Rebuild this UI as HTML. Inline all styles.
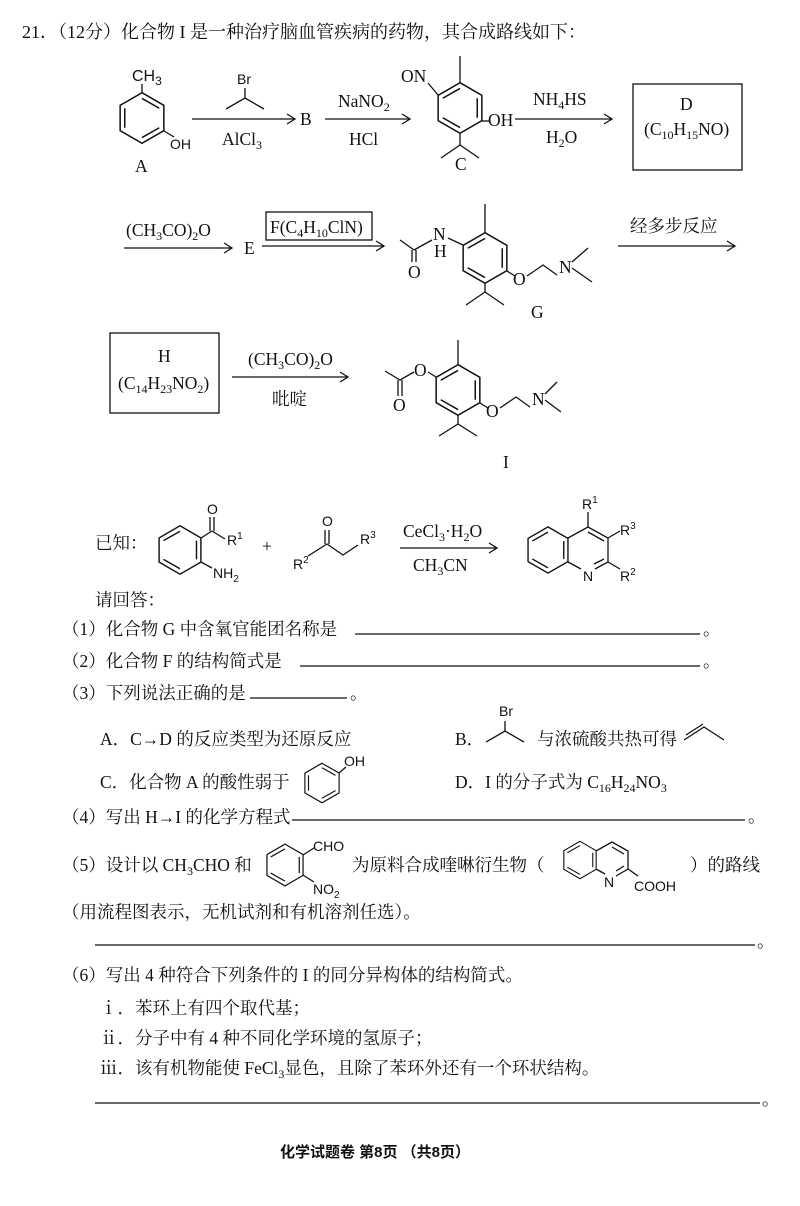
<!DOCTYPE html>
<html><head><meta charset="utf-8"><style>
html,body{margin:0;padding:0;background:#fff;}
svg{display:block}
text{font-family:"Liberation Serif","Noto Serif CJK SC",serif;font-size:17.5px;fill:#111}
.s{font-family:"Liberation Sans","Noto Sans CJK SC",sans-serif;font-size:14px}
line,polyline,polygon,rect{stroke:#111;stroke-width:1.3;fill:none}
</style></head><body>
<svg width="800" height="1206" viewBox="0 0 800 1206">
<defs>
<g id="bz"><polygon points="0,-22 19,-11 19,11 0,22 -19,11 -19,-11"/><line x1="0" y1="-17" x2="15" y2="-8.5"/><line x1="15" y1="8.5" x2="0" y2="17"/><line x1="-15" y1="8.5" x2="-15" y2="-8.5"/></g>
<g id="bz2"><polygon points="0,-22 19,-11 19,11 0,22 -19,11 -19,-11"/><line x1="-15" y1="-8.5" x2="0" y2="-17"/><line x1="15" y1="-8.5" x2="15" y2="8.5"/><line x1="0" y1="17" x2="-15" y2="8.5"/></g>
</defs>
<text x="22" y="38" style="font-size:18px">21．（12分）化合物 I 是一种治疗脑血管疾病的药物，其合成路线如下：</text>

<use href="#bz" transform="translate(142,118) scale(1.15)"/>
<line x1="142" y1="93" x2="142" y2="84"/><text class="s" x="132" y="81" style="font-size:16px">CH<tspan dy="4" font-size="12">3</tspan></text>
<line x1="164" y1="131" x2="174" y2="137"/><text class="s" x="170" y="149">OH</text>
<text x="135" y="172">A</text>
<line x1="192" y1="119" x2="295" y2="119"/><polyline points="287,114 295,119 287,124"/>
<text class="s" x="237" y="84">Br</text><polyline points="226,109 245,98 264,109"/><line x1="245" y1="98" x2="245" y2="88"/>
<text x="222" y="145">AlCl<tspan dy="4" font-size="12">3</tspan></text>
<text x="300" y="125">B</text>
<line x1="325" y1="119" x2="410" y2="119"/><polyline points="402,114 410,119 402,124"/>
<text x="338" y="107">NaNO<tspan dy="4" font-size="12">2</tspan></text><text x="349" y="145">HCl</text>
<use href="#bz2" transform="translate(460,108) scale(1.15)"/>
<line x1="460" y1="83" x2="460" y2="56"/>
<line x1="438" y1="95" x2="428" y2="83"/><text x="401" y="82">ON</text>
<line x1="482" y1="121" x2="490" y2="121"/><text x="488" y="126">OH</text>
<line x1="460" y1="133" x2="460" y2="145"/><polyline points="441,158 460,145 479,158"/>
<text x="455" y="170">C</text>
<line x1="515" y1="119" x2="612" y2="119"/><polyline points="604,114 612,119 604,124"/>
<text x="533" y="105">NH<tspan dy="4" font-size="12">4</tspan><tspan dy="-4">HS</tspan></text><text x="546" y="143">H<tspan dy="4" font-size="12">2</tspan><tspan dy="-4">O</tspan></text>
<rect x="633" y="84" width="109" height="86"/>
<text x="680" y="110">D</text><text x="644" y="135">(C<tspan dy="4" font-size="12">10</tspan><tspan dy="-4">H</tspan><tspan dy="4" font-size="12">15</tspan><tspan dy="-4">NO)</tspan></text>

<line x1="124" y1="248" x2="232" y2="248"/><polyline points="224,243 232,248 224,253"/>
<text x="126" y="236">(CH<tspan dy="4" font-size="12">3</tspan><tspan dy="-4">CO)</tspan><tspan dy="4" font-size="12">2</tspan><tspan dy="-4">O</tspan></text>
<text x="244" y="254">E</text>
<line x1="262" y1="246" x2="384" y2="246"/><polyline points="376,241 384,246 376,251"/>
<rect x="266" y="212" width="106" height="28"/>
<text x="270" y="233">F(C<tspan dy="4" font-size="12">4</tspan><tspan dy="-4">H</tspan><tspan dy="4" font-size="12">10</tspan><tspan dy="-4">ClN)</tspan></text>
<use href="#bz2" transform="translate(485,258) scale(1.15)"/>
<line x1="485" y1="233" x2="485" y2="204"/>
<line x1="463" y1="245" x2="448" y2="238"/>
<text x="433" y="240">N</text><text x="434" y="257">H</text>
<line x1="432" y1="240" x2="414" y2="250"/><line x1="414" y1="250" x2="400" y2="240"/>
<line x1="412" y1="250" x2="412" y2="262"/><line x1="416" y1="250" x2="416" y2="262"/>
<text x="408" y="278">O</text>
<line x1="507" y1="271" x2="515" y2="276"/><text x="513" y="285">O</text>
<polyline points="527,276 543,265 557,275"/>
<text x="559" y="273">N</text>
<line x1="572" y1="262" x2="588" y2="248"/><line x1="572" y1="268" x2="592" y2="282"/>
<line x1="485" y1="283" x2="485" y2="292"/><polyline points="466,305 485,292 504,305"/>
<text x="531" y="318">G</text>
<line x1="618" y1="246" x2="735" y2="246"/><polyline points="727,241 735,246 727,251"/>
<text x="630" y="232">经多步反应</text>

<rect x="110" y="333" width="109" height="80"/>
<text x="158" y="362">H</text><text x="118" y="389">(C<tspan dy="4" font-size="12">14</tspan><tspan dy="-4">H</tspan><tspan dy="4" font-size="12">23</tspan><tspan dy="-4">NO</tspan><tspan dy="4" font-size="12">2</tspan><tspan dy="-4">)</tspan></text>
<line x1="232" y1="377" x2="348" y2="377"/><polyline points="340,372 348,377 340,382"/>
<text x="248" y="365">(CH<tspan dy="4" font-size="12">3</tspan><tspan dy="-4">CO)</tspan><tspan dy="4" font-size="12">2</tspan><tspan dy="-4">O</tspan></text>
<text x="272" y="405">吡啶</text>
<use href="#bz2" transform="translate(458,390) scale(1.15)"/>
<line x1="458" y1="365" x2="458" y2="340"/>
<line x1="436" y1="377" x2="428" y2="372"/><text x="414" y="376">O</text>
<polyline points="414,372 400,380 385,371"/>
<line x1="398" y1="380" x2="398" y2="396"/><line x1="402" y1="380" x2="402" y2="396"/>
<text x="393" y="411">O</text>
<line x1="480" y1="403" x2="488" y2="408"/><text x="486" y="417">O</text>
<polyline points="500,408 516,397 530,407"/>
<text x="532" y="405">N</text>
<line x1="545" y1="394" x2="557" y2="382"/><line x1="545" y1="400" x2="561" y2="412"/>
<line x1="458" y1="415" x2="458" y2="424"/><polyline points="439,436 458,424 477,436"/>
<text x="503" y="468">I</text>

<text x="95" y="549">已知：</text>
<use href="#bz2" transform="translate(180,550) scale(1.1)"/>
<line x1="201" y1="538" x2="212" y2="531"/><line x1="212" y1="531" x2="225" y2="539"/>
<line x1="210" y1="531" x2="210" y2="517"/><line x1="214" y1="531" x2="214" y2="517"/>
<text class="s" x="207" y="514">O</text><text class="s" x="227" y="545">R<tspan dy="-6" font-size="10">1</tspan></text>
<line x1="201" y1="562" x2="212" y2="568"/><text class="s" x="213" y="578">NH<tspan dy="4" font-size="10">2</tspan></text>
<text x="262" y="552">+</text>
<polyline points="308,556 327,544 343,555 358,545"/>
<line x1="325" y1="544" x2="325" y2="530"/><line x1="329" y1="544" x2="329" y2="530"/>
<text class="s" x="322" y="526">O</text>
<text class="s" x="293" y="569">R<tspan dy="-6" font-size="10">2</tspan></text>
<text class="s" x="360" y="544">R<tspan dy="-6" font-size="10">3</tspan></text>
<line x1="400" y1="548" x2="497" y2="548"/><polyline points="489,543 497,548 489,553"/>
<text x="403" y="537">CeCl<tspan dy="4" font-size="12">3</tspan><tspan dy="-4">·H</tspan><tspan dy="4" font-size="12">2</tspan><tspan dy="-4">O</tspan></text>
<text x="413" y="571">CH<tspan dy="4" font-size="12">3</tspan><tspan dy="-4">CN</tspan></text>
<use href="#bz2" transform="translate(548,550) scale(1.05)"/>
<polyline points="568,538 588,527 608,538 608,562 595,569"/>
<polyline points="568,562 581,569"/>
<line x1="588" y1="532" x2="604" y2="541"/><line x1="604" y1="559" x2="594" y2="564"/>
<line x1="588" y1="527" x2="588" y2="512"/><text class="s" x="582" y="509">R<tspan dy="-6" font-size="10">1</tspan></text>
<line x1="608" y1="538" x2="620" y2="531"/><text class="s" x="620" y="535">R<tspan dy="-6" font-size="10">3</tspan></text>
<text class="s" x="583" y="581">N</text>
<line x1="608" y1="562" x2="620" y2="569"/><text class="s" x="620" y="581">R<tspan dy="-6" font-size="10">2</tspan></text>

<text x="95" y="606">请回答：</text>
<text x="62" y="635">（1）化合物 G 中含氧官能团名称是</text><line x1="355" y1="634" x2="700" y2="634"/><text x="703" y="635">。</text>
<text x="62" y="667">（2）化合物 F 的结构简式是</text><line x1="300" y1="666" x2="700" y2="666"/><text x="703" y="667">。</text>
<text x="62" y="699">（3）下列说法正确的是</text><line x1="250" y1="698" x2="347" y2="698"/><text x="350" y="699">。</text>
<text x="100" y="745">A．C→D 的反应类型为还原反应</text>
<text x="455" y="745">B．</text>
<text class="s" x="499" y="716">Br</text><polyline points="486,742 505,731 524,742"/><line x1="505" y1="731" x2="505" y2="721"/>
<text x="537" y="745">与浓硫酸共热可得</text>
<polyline points="684,740 704,727 724,740"/><line x1="686" y1="735" x2="703" y2="724"/>
<text x="100" y="788">C．化合物 A 的酸性弱于</text>
<use href="#bz" transform="translate(322,783) scale(0.9)"/>
<line x1="339" y1="773" x2="346" y2="767"/><text class="s" x="344" y="766">OH</text>
<text x="455" y="788">D．I 的分子式为 C<tspan dy="4" font-size="12">16</tspan><tspan dy="-4">H</tspan><tspan dy="4" font-size="12">24</tspan><tspan dy="-4">NO</tspan><tspan dy="4" font-size="12">3</tspan></text>
<text x="62" y="823">（4）写出 H→I 的化学方程式</text><line x1="292" y1="820" x2="745" y2="820"/><text x="748" y="822">。</text>
<text x="62" y="871">（5）设计以 CH<tspan dy="4" font-size="12">3</tspan><tspan dy="-4">CHO 和</tspan></text>
<use href="#bz2" transform="translate(285,865) scale(0.95)"/>
<line x1="303" y1="855" x2="314" y2="848"/><text class="s" x="313" y="851">CHO</text>
<line x1="303" y1="875" x2="314" y2="882"/><text class="s" x="313" y="894">NO<tspan dy="4" font-size="10">2</tspan></text>
<text x="352" y="871">为原料合成喹啉衍生物（</text>
<use href="#bz2" transform="translate(580,860) scale(0.85)"/>
<polyline points="596,851 612,842 628,851 628,869 616,876"/>
<line x1="596" y1="869" x2="605" y2="874"/>
<line x1="612" y1="847" x2="624" y2="854"/><line x1="624" y1="866" x2="616" y2="871"/>
<text class="s" x="604" y="887">N</text>
<line x1="628" y1="869" x2="638" y2="876"/><text class="s" x="634" y="891">COOH</text>
<text x="690" y="871">）的路线</text>
<text x="62" y="918">（用流程图表示，无机试剂和有机溶剂任选）。</text>
<line x1="95" y1="945" x2="755" y2="945"/><text x="757" y="947">。</text>
<text x="62" y="981">（6）写出 4 种符合下列条件的 I 的同分异构体的结构简式。</text>
<text x="100" y="1014">ⅰ．苯环上有四个取代基；</text>
<text x="100" y="1044">ⅱ．分子中有 4 种不同化学环境的氢原子；</text>
<text x="100" y="1074">ⅲ．该有机物能使 FeCl<tspan dy="4" font-size="12">3</tspan><tspan dy="-4">显色，且除了苯环外还有一个环状结构。</tspan></text>
<line x1="95" y1="1103" x2="760" y2="1103"/><text x="762" y="1105">。</text>
<text x="280" y="1157" font-weight="bold" style="font-family:'Liberation Sans','Noto Sans CJK SC',sans-serif;font-size:15px">化学试题卷  第8页 （共8页）</text>
</svg>
</body></html>
